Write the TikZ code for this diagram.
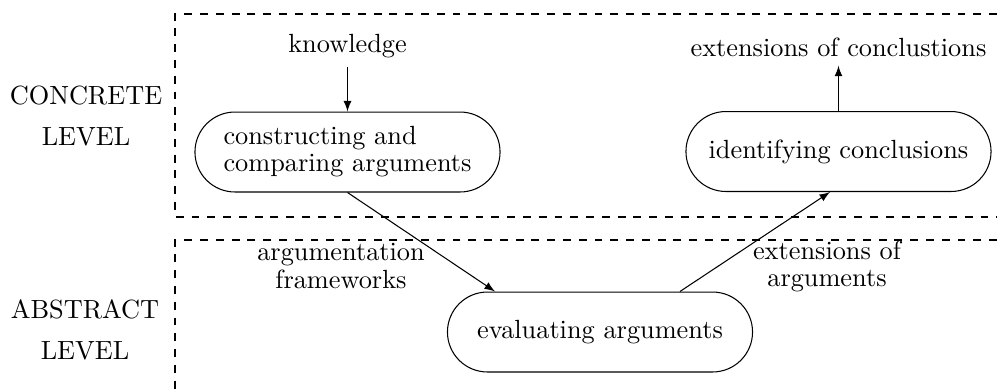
\documentclass[tikz,border=0pt]{standalone}
\usetikzlibrary{arrows}
\begin{document}
\begin{tikzpicture}[x=0.3802pt,y=-0.3802pt,
  proc/.style={draw,rectangle,rounded corners=15.2pt,minimum width=116pt,minimum height=30.4pt,inner sep=0pt},
  lbl/.style={align=center,inner sep=0pt},
  frame/.style={dashed,line width=0.4pt},
  conn/.style={-latex,line width=0.4pt}]
\useasboundingbox (0,0) rectangle (997,389);
% frames
\draw[frame] (997,14) -- (175,14) -- (175,217) -- (997,217);
\draw[frame] (997,240) -- (175,240) -- (175,389);
% level labels
\node[lbl] (conc) at (86,116) {CONCRETE\\[3.4pt]LEVEL};
\node[lbl] (abst) at (85,330) {ABSTRACT\\[3.8pt]LEVEL};
% processes
\node[proc,align=left] (n1) at (347.5,152) {constructing and\\[-1.7pt]comparing arguments};
\node[proc] (n2) at (838.5,151.5) {identifying conclusions};
\node[proc] (n3) at (600,332) {evaluating arguments};
% inputs / outputs
\node (know) at (347.5,46) {knowledge};
\node (extc) at (838.5,47) {extensions of conclustions};
\draw[conn] (know.south) -- (n1.north);
\draw[conn] (n2.north) -- (extc.south);
% connectors
\draw[conn] (n1.south) -- ([xshift=-39.9pt]n3.north);
\draw[conn] ([xshift=30.4pt]n3.north) -- ([xshift=-3.2pt]n2.south);
% edge labels
\node[lbl] (af) at (341,266) {argumentation\\[-1.7pt]frameworks};
\node[lbl] (ea) at (827,266) {extensions of\\[-1.7pt]arguments};
\end{tikzpicture}
\end{document}
